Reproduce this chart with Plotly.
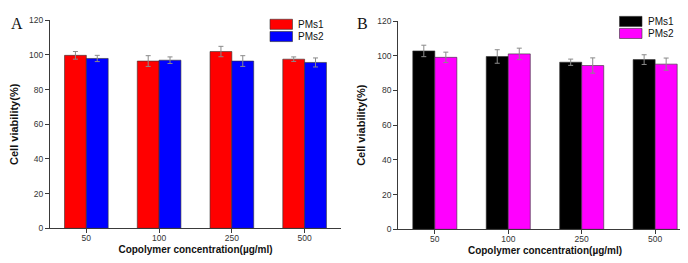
import plotly.graph_objects as go

categories = ["50", "100", "250", "500"]
series_names = ["PMs1", "PMs2"]

a_pms1 = [99.8, 96.5, 102.0, 97.6]
a_pms1_err = [2.2, 3.1, 3.0, 1.3]
a_pms2 = [98.0, 97.0, 96.5, 95.7]
a_pms2_err = [1.8, 1.9, 3.1, 2.6]

b_pms1 = [102.8, 99.6, 96.3, 97.8]
b_pms1_err = [3.3, 3.9, 1.8, 2.8]
b_pms2 = [99.1, 101.1, 94.4, 95.2]
b_pms2_err = [3.0, 3.3, 4.4, 3.5]

y_ticks = [0, 20, 40, 60, 80, 100, 120]

colors_a = ["#FF0000", "#0000FF"]
colors_b = ["#000000", "#FF00FF"]

W, H = 688, 263
FONT = "Arial, Liberation Sans, sans-serif"
AXC = "#3a3a3a"

fig = go.Figure()

def add_bars(vals, errs, name, color, xa, ya):
    fig.add_trace(go.Bar(
        x=categories, y=vals, name=name, xaxis=xa, yaxis=ya,
        marker=dict(color=color, line=dict(color="#333333", width=0.6)),
        error_y=dict(type="data", array=errs, visible=True, color="#8a8a8a",
                     thickness=1, width=2.5),
        showlegend=False,
    ))

add_bars(a_pms1, a_pms1_err, series_names[0], colors_a[0], "x", "y")
add_bars(a_pms2, a_pms2_err, series_names[1], colors_a[1], "x", "y")
add_bars(b_pms1, b_pms1_err, series_names[0], colors_b[0], "x2", "y2")
add_bars(b_pms2, b_pms2_err, series_names[1], colors_b[1], "x2", "y2")

def xaxis_cfg(dom, anchor):
    return dict(domain=dom, anchor=anchor, type="category", range=[-0.5, 3.5],
                showline=True, linecolor=AXC, linewidth=1, ticks="outside",
                ticklen=4, tickcolor=AXC, showgrid=False, zeroline=False,
                ticklabelstandoff=-3,
                tickfont=dict(family=FONT, size=8.5, color="#333333"),
                title=dict(text="<b>Copolymer concentration(\u00b5g/ml)</b>",
                           font=dict(family=FONT, size=10, color="#111111"),
                           standoff=4))

def yaxis_cfg(dom, anchor):
    return dict(domain=dom, anchor=anchor, range=[0, 120], tickvals=y_ticks,
                showline=True, linecolor=AXC, linewidth=1, ticks="outside",
                ticklen=4, tickcolor=AXC, showgrid=False, zeroline=False,
                tickfont=dict(family=FONT, size=8.5, color="#333333"),
                title=dict(text="<b>Cell viability(%)</b>",
                           font=dict(family=FONT, size=11, color="#111111"),
                           standoff=9))

fig.update_layout(
    width=W, height=H, margin=dict(l=0, r=0, t=0, b=0),
    paper_bgcolor="white", plot_bgcolor="white",
    barmode="group", bargap=0.4, bargroupgap=0,
    xaxis=xaxis_cfg([0.061, 0.484], "y"),
    yaxis=yaxis_cfg([0.149, 0.971], "x"),
    xaxis2=xaxis_cfg([0.567, 0.994], "y2"),
    yaxis2=yaxis_cfg([0.145, 0.968], "x2"),
)

# panel letters
for txt, xp in [("A", 1), ("B", 347)]:
    fig.add_annotation(text=txt, x=xp / W, y=1 - 0 / H, xref="paper", yref="paper",
                       xanchor="left", yanchor="top", showarrow=False,
                       font=dict(family="Liberation Serif, Times New Roman, serif",
                                 size=16, color="#111111"))

# legends (drawn boxes + labels)
def legend(x0, y0s, colors):
    for name, col, yt in zip(series_names, colors, y0s):
        fig.add_shape(type="rect", xref="paper", yref="paper",
                      x0=x0 / W, x1=(x0 + 22.5) / W,
                      y0=1 - (yt + 10.5) / H, y1=1 - yt / H,
                      fillcolor=col, line=dict(color="#333333", width=0.6))
        fig.add_annotation(text=name, x=(x0 + 26) / W, y=1 - (yt + 5.5) / H,
                           xref="paper", yref="paper", xanchor="left",
                           yanchor="middle", showarrow=False,
                           font=dict(family=FONT, size=10, color="#111111"))

legend(262, [6.5, 19.2], colors_a)
legend(611.5, [3.5, 16.0], colors_b)

fig.write_html("out.html")
